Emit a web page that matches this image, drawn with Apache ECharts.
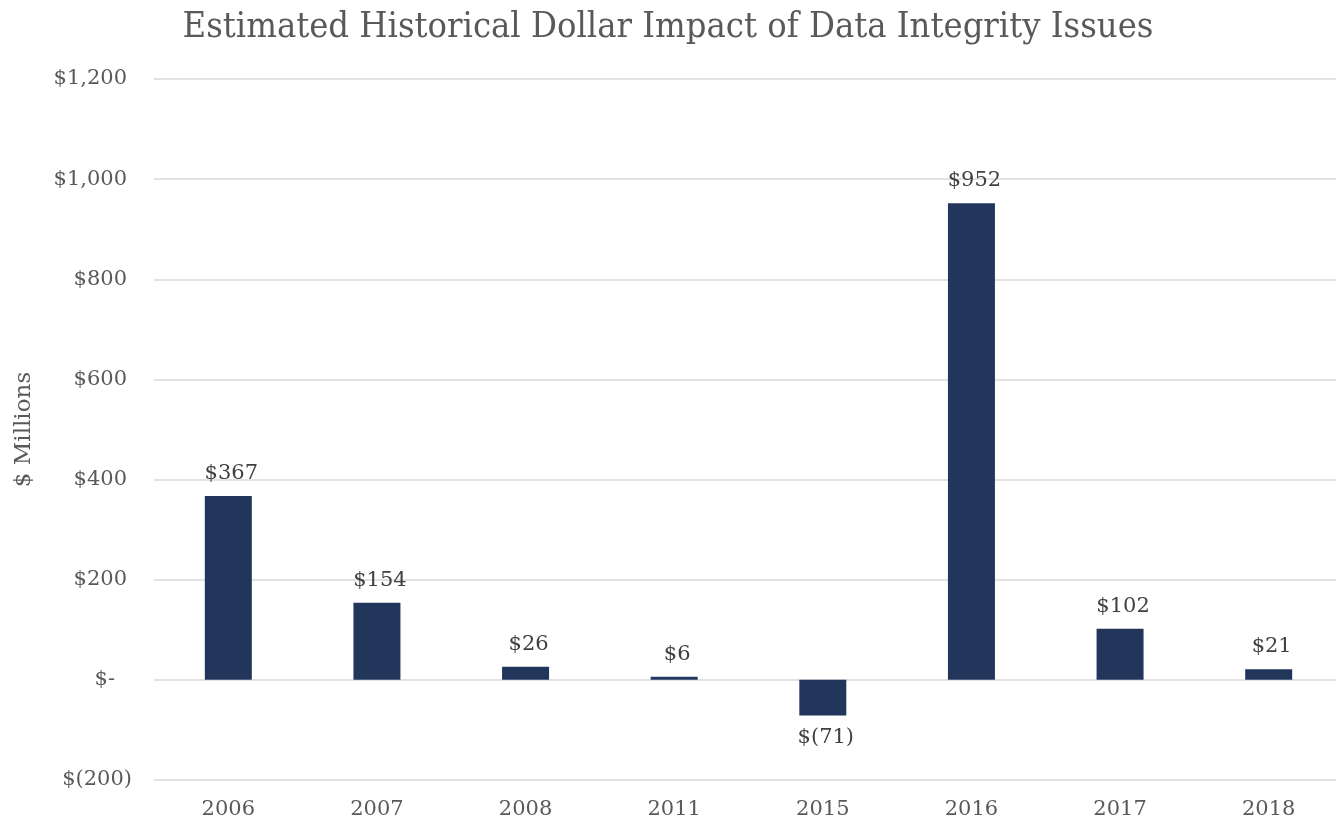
<!DOCTYPE html>
<html><head><meta charset="utf-8">
<script src="https://cdn.jsdelivr.net/npm/echarts@6/dist/echarts.min.js"></script>
<style>html,body{margin:0;padding:0;background:#fff}#c{width:1336px;height:821px}</style>
</head><body><div id="c"></div>
<script>
const categories = ['2006','2007','2008','2011','2015','2016','2017','2018'];
const values = [367, 154, 26, 6, -71, 952, 102, 21];
const titleText = 'Estimated Historical Dollar Impact of Data Integrity Issues';
const yAxisName = '$ Millions';

function fmt(v){
  if (v === 0) return '$-';
  const a = Math.abs(v).toLocaleString('en-US');
  return v < 0 ? '$(' + a + ')' : '$' + a;
}
function axisFmt(v){
  if (v === 0) return '{t|$-}{z|}';
  if (v < 0) return '{t|' + fmt(v) + '}';
  return '{t|' + fmt(v) + '}{p|}';
}
const FONT = '"DejaVu Serif", serif';
const chart = echarts.init(document.getElementById('c'));
chart.setOption({
  animation: false,
  title: {text: titleText, left: 'center', top: 5,
    textStyle: {fontFamily: '"DejaVu Serif Condensed", "DejaVu Serif", serif', fontSize: 36, fontWeight: 'normal', color: '#595959'}},
  grid: {left: 154, width: 1189, top: 79, bottom: 41, containLabel: false, outerBoundsMode: 'none'},
  xAxis: {type: 'category', data: categories,
    axisLine: {show: false}, axisTick: {show: false},
    axisLabel: {fontFamily: FONT, fontSize: 21, color: '#595959', margin: 19}},
  yAxis: {type: 'value', min: -200, max: 1200, interval: 200,
    name: yAxisName, nameLocation: 'middle', nameGap: 118, nameRotate: 90,
    nameTextStyle: {fontFamily: FONT, fontSize: 23, color: '#595959'},
    axisLine: {show: false}, axisTick: {show: false},
    axisLabel: {margin: 22, formatter: axisFmt,
      rich: {t: {fontFamily: FONT, fontSize: 21, color: '#595959'},
             p: {width: 5}, z: {width: 17}}},
    splitLine: {lineStyle: {color: '#d9d9d9', width: 1.5}}},
  series: [{type: 'bar', data: values.map(v => ({value: v,
      label: {position: v < 0 ? 'bottom' : 'top', offset: [3, 0]}})),
    barWidth: 47, itemStyle: {color: '#22365c'},
    label: {show: true, distance: 12, fontFamily: FONT, fontSize: 21, color: '#404040',
      formatter: p => fmt(p.value)}}]
});
</script></body></html>
